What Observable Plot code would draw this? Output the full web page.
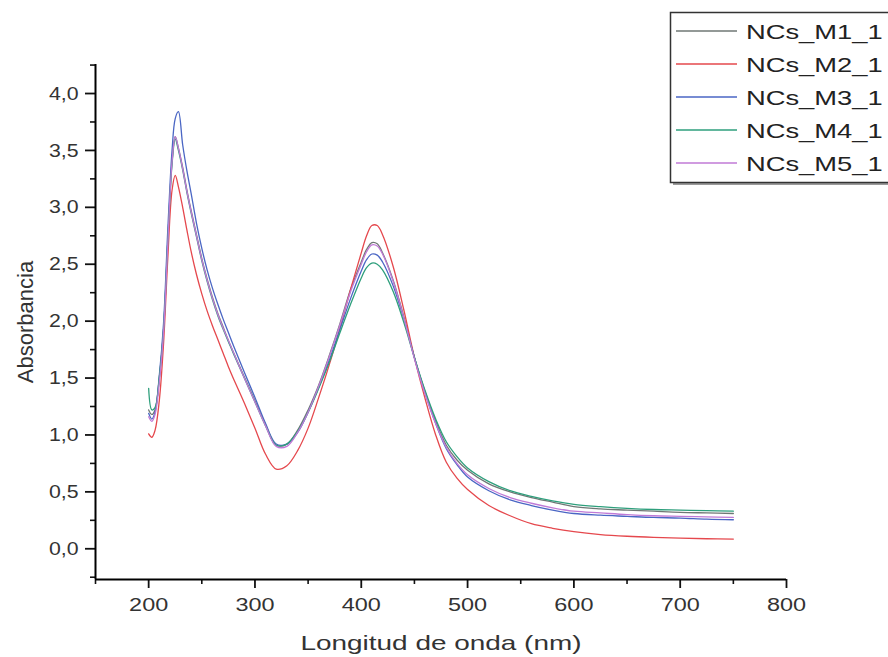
<!DOCTYPE html>
<html>
<head>
<meta charset="utf-8">
<script src="https://cdn.jsdelivr.net/npm/d3@7"></script>
<script src="https://cdn.jsdelivr.net/npm/@observablehq/plot@0.6"></script>
<style>
  html, body { margin: 0; padding: 0; background: #fff; }
  #chart { width: 888px; height: 657px; overflow: hidden; }
</style>
</head>
<body>
<div id="chart"></div>
<script>
// ---- data ----
const seriesNames = ["NCs_M1_1", "NCs_M2_1", "NCs_M3_1", "NCs_M4_1", "NCs_M5_1"];
const seriesColors = ["#6f7775", "#e5484d", "#4a66c4", "#2e9f7c", "#c07ad6"];

const wavelength = [200,203,206,210,214,218,222,225,228,232,236,240,245,250,255,260,265,270,275,280,
  290,300,310,320,330,340,350,360,370,380,390,400,405,410,415,420,430,440,450,460,
  470,480,490,500,520,540,560,580,600,625,650,675,700,725,750];

const m1 = [1.22,1.18,1.22,1.50,1.92,2.70,3.40,3.62,3.52,3.35,3.15,2.97,2.76,2.55,2.37,2.21,2.07,1.95,1.83,1.72,
  1.51,1.30,1.09,0.91,0.92,1.04,1.22,1.44,1.70,1.98,2.28,2.52,2.63,2.69,2.68,2.60,2.36,2.04,1.68,1.38,
  1.12,0.91,0.78,0.69,0.57,0.50,0.45,0.41,0.37,0.35,0.34,0.33,0.32,0.315,0.31];
const m2 = [1.01,0.98,1.04,1.30,1.80,2.55,3.15,3.28,3.18,3.00,2.80,2.61,2.41,2.24,2.09,1.96,1.84,1.72,1.60,1.49,
  1.28,1.06,0.83,0.70,0.73,0.86,1.06,1.33,1.62,1.94,2.28,2.60,2.75,2.84,2.84,2.76,2.48,2.10,1.68,1.32,
  1.00,0.76,0.62,0.52,0.38,0.29,0.22,0.18,0.15,0.125,0.11,0.10,0.093,0.088,0.085];
const m3 = [1.19,1.14,1.20,1.52,1.98,2.80,3.50,3.78,3.84,3.55,3.32,3.12,2.86,2.64,2.45,2.29,2.15,2.02,1.90,1.78,
  1.55,1.33,1.10,0.92,0.92,1.02,1.20,1.42,1.66,1.93,2.20,2.44,2.54,2.59,2.58,2.52,2.31,2.02,1.68,1.37,
  1.10,0.88,0.74,0.63,0.51,0.43,0.38,0.34,0.31,0.295,0.285,0.275,0.27,0.26,0.255];
const m4 = [1.41,1.22,1.24,1.50,1.92,2.70,3.38,3.60,3.50,3.33,3.13,2.95,2.74,2.53,2.35,2.19,2.05,1.93,1.82,1.71,
  1.50,1.29,1.08,0.91,0.92,1.03,1.20,1.41,1.64,1.90,2.15,2.38,2.47,2.51,2.50,2.45,2.26,1.99,1.68,1.39,
  1.14,0.94,0.81,0.71,0.59,0.51,0.46,0.42,0.39,0.37,0.355,0.345,0.34,0.335,0.33];
const m5 = [1.16,1.12,1.18,1.46,1.90,2.68,3.40,3.62,3.52,3.34,3.14,2.96,2.75,2.54,2.36,2.20,2.06,1.94,1.83,1.72,
  1.50,1.29,1.08,0.90,0.90,1.02,1.20,1.43,1.69,1.97,2.26,2.50,2.61,2.67,2.66,2.59,2.35,2.03,1.67,1.36,
  1.10,0.89,0.75,0.65,0.53,0.45,0.40,0.36,0.33,0.315,0.30,0.29,0.285,0.28,0.275];

const xMajorTicks = [200, 300, 400, 500, 600, 700, 800];
const xMinorTicks = [150, 250, 350, 450, 550, 650, 750];
const yMajorTicks = [0, 0.5, 1, 1.5, 2, 2.5, 3, 3.5, 4];
const yMinorTicks = [-0.25, 0.25, 0.75, 1.25, 1.75, 2.25, 2.75, 3.25, 3.75, 4.25];

// ---- tidy table ----
const allSeries = [m1, m2, m3, m4, m5];
const rows = [];
allSeries.forEach((vals, s) => {
  vals.forEach((v, i) => rows.push({series: seriesNames[s], wl: wavelength[i], a: v}));
});

const FONT = "'Liberation Sans', Arial, sans-serif";
const comma = d => d.toFixed(1).replace(".", ",");

const chart = Plot.plot({
  width: 888,
  height: 657,
  marginLeft: 95,
  marginRight: 102,
  marginTop: 64,
  marginBottom: 78,
  style: {fontFamily: FONT, fontSize: "18px", color: "#333", background: "#fff"},
  x: {domain: [150, 800]},
  y: {domain: [-0.27, 4.255]},
  color: {domain: seriesNames, range: seriesColors},
  marks: [
    Plot.line(rows, {x: "wl", y: "a", z: "series", stroke: "series", strokeWidth: 1.3, curve: "catmull-rom"}),
    Plot.axisX({ticks: xMinorTicks, tickSize: 5, tickFormat: () => "", label: null, stroke: "#111", strokeWidth: 1.6}),
    Plot.axisX({ticks: xMajorTicks, tickSize: 9, tickPadding: 10, tickFormat: d => String(d), fill: "#333",
      stroke: "#111", strokeWidth: 1.8, label: "Longitud de onda (nm)", labelAnchor: "center", labelArrow: "none", labelOffset: 70}),
    Plot.axisY({ticks: yMinorTicks, tickSize: 5, tickFormat: () => "", label: null, stroke: "#111", strokeWidth: 1.6}),
    Plot.axisY({ticks: yMajorTicks, tickSize: 10, tickPadding: 7, tickFormat: comma, fill: "#333",
      stroke: "#111", strokeWidth: 1.8, label: "Absorbancia", labelAnchor: "center", labelArrow: "none", labelOffset: 78}),
    Plot.ruleX([150], {stroke: "#000", strokeWidth: 2}),
    Plot.ruleY([-0.27], {stroke: "#000", strokeWidth: 2})
  ]
});

document.getElementById("chart").appendChild(chart);

const svg = d3.select(chart);

// axis titles and tick label sizes
svg.selectAll('g[aria-label="x-axis label"] text').style("font-size", "21px");
svg.selectAll('g[aria-label="y-axis label"] text').style("font-size", "22px");
svg.selectAll('g[aria-label="y-axis tick label"] text').style("font-size", "19px");

// horizontal stretch of text as in the reference picture
function stretch(selection, k) {
  selection.each(function() {
    const L = this.getComputedTextLength();
    if (L > 0) {
      this.setAttribute("textLength", (L * k).toFixed(1));
      this.setAttribute("lengthAdjust", "spacingAndGlyphs");
    }
  });
}
stretch(svg.selectAll('g[aria-label="x-axis tick label"] text'), 1.3);
stretch(svg.selectAll('g[aria-label="x-axis label"] text'), 1.33);
stretch(svg.selectAll('g[aria-label="y-axis tick label"] text'), 1.12);

// legend (built from the series names/colours)
const leg = svg.append("g").attr("class", "legend").attr("text-anchor", "start");
leg.append("rect").attr("x", 673).attr("y", 15).attr("width", 260).attr("height", 170).attr("fill", "#9a9a9a");
leg.append("rect").attr("x", 670.5).attr("y", 12.5).attr("width", 260).attr("height", 170)
  .attr("fill", "#fff").attr("stroke", "#333").attr("stroke-width", 1.5);
seriesNames.forEach((name, i) => {
  const cy = 31 + i * 33;
  leg.append("line").attr("x1", 676).attr("x2", 737).attr("y1", cy).attr("y2", cy)
    .attr("stroke", seriesColors[i]).attr("stroke-width", 1.4);
  const t = leg.append("text").attr("x", 746).attr("y", cy).attr("dy", "0.36em")
    .attr("text-anchor", "start")
    .attr("fill", "#222").style("font-family", FONT).style("font-size", "21px").text(name);
  stretch(t, 1.3);
});
</script>
</body>
</html>
